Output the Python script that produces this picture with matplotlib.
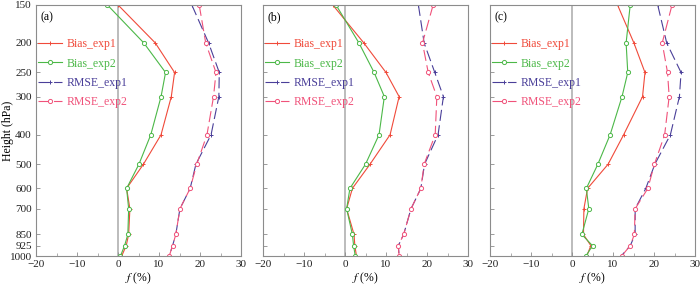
import matplotlib
matplotlib.use("Agg")
import matplotlib.pyplot as plt
from matplotlib.ticker import FixedLocator, NullLocator, MultipleLocator

plt.rcParams['font.family'] = ['Liberation Serif', 'DejaVu Serif']
plt.rcParams['mathtext.fontset'] = 'stix'

levels = [150, 200, 250, 300, 400, 500, 600, 700, 850, 925, 1000]
level_labels = ['150', '200', '250', '300', '400', '500', '600', '700', '850', '925', '1000']

# panel (a)
bias1_a = [0.0, 9.1, 13.8, 13.0, 10.5, 6.2, 2.1, 2.9, 2.6, 2.0, 0.9]
bias2_a = [-2.6, 6.3, 11.6, 10.5, 8.0, 5.1, 2.1, 2.6, 2.4, 1.6, 0.6]
rmse1_a = [18.0, 22.1, 24.7, 24.6, 22.7, 19.0, 17.6, 15.1, 14.1, 13.3, 12.5]
rmse2_a = [19.8, 21.4, 23.9, 23.3, 21.7, 19.2, 17.6, 15.1, 14.1, 13.3, 12.5]

# panel (b)
bias1_b = [-3.0, 4.6, 10.0, 13.2, 11.0, 6.1, 1.8, 0.4, 2.2, 2.4, 2.8]
bias2_b = [-2.2, 3.4, 7.1, 9.6, 8.3, 5.0, 1.2, 0.4, 1.8, 2.1, 2.5]
rmse1_b = [17.9, 19.3, 21.9, 24.0, 22.7, 19.4, 18.5, 16.1, 14.3, 13.0, 13.2]
rmse2_b = [21.5, 18.9, 20.3, 22.4, 22.0, 19.3, 18.5, 16.1, 14.3, 13.0, 13.2]

# panel (c)
bias1_c = [11.1, 15.1, 17.8, 17.2, 12.6, 8.8, 3.8, 2.9, 2.8, 4.6, 3.6]
bias2_c = [14.2, 13.2, 13.6, 12.2, 9.3, 6.3, 3.5, 4.1, 2.4, 5.0, 3.4]
rmse1_c = [20.9, 23.1, 26.6, 26.2, 24.0, 20.2, 18.0, 15.4, 15.4, 14.2, 12.0]
rmse2_c = [24.4, 22.0, 23.3, 23.7, 22.6, 20.1, 18.5, 15.4, 15.2, 14.2, 12.1]

panels = [('(a)', bias1_a, bias2_a, rmse1_a, rmse2_a),
          ('(b)', bias1_b, bias2_b, rmse1_b, rmse2_b),
          ('(c)', bias1_c, bias2_c, rmse1_c, rmse2_c)]

c_red = '#f04a3a'
c_green = '#4cb848'
c_blue = '#4a3f99'
c_pink = '#f0527a'
c_axis = '#8c8c8c'

fig = plt.figure(figsize=(7, 2.87), dpi=100)
lefts = [36 / 700, 263 / 700, 490 / 700]
for i, (tag, b1, b2, r1, r2) in enumerate(panels):
    ax = fig.add_axes([lefts[i], 0.108, 205 / 700, 0.875])
    ax.axvline(0, color='#b0b0b0', lw=1.2, zorder=1)
    ax.plot(b1, levels, color=c_red, lw=0.8, marker='+', ms=3.5, mew=0.7,
            label='Bias_exp1')
    ax.plot(b2, levels, color=c_green, lw=0.8, marker='o', ms=3, mew=0.7,
            mfc='white', label='Bias_exp2')
    ax.plot(r1, levels, color=c_blue, lw=0.8, marker='+', ms=3.5, mew=0.7,
            dashes=(10, 4), label='RMSE_exp1')
    ax.plot(r2, levels, color=c_pink, lw=0.8, marker='o', ms=3, mew=0.7,
            mfc='white', dashes=(10, 4), label='RMSE_exp2')
    ax.set_yscale('log')
    ax.set_ylim(1000, 150)
    ax.set_xlim(-20, 30)
    ax.yaxis.set_major_locator(FixedLocator(levels))
    ax.yaxis.set_minor_locator(NullLocator())
    ax.xaxis.set_minor_locator(MultipleLocator(5))
    ax.set_xticks([-20, -10, 0, 10, 20, 30])
    ax.set_xticklabels(['\u221220', '\u221210', '0', '10', '20', '30'])
    if i == 0:
        ax.set_yticklabels(level_labels)
        ax.set_ylabel('Height (hPa)', fontsize=8.5)
        ax.yaxis.set_label_coords(-0.108, 0.5)
    else:
        ax.set_yticklabels([])
    ax.tick_params(direction='in', length=3, width=0.6, colors=c_axis,
                   labelcolor='#222222', labelsize=8, pad=3)
    ax.tick_params(which='minor', direction='in', length=2, width=0.5,
                   colors=c_axis)
    for s in ax.spines.values():
        s.set_color(c_axis)
        s.set_linewidth(0.8)
    ax.set_xlabel(r'$f$ (%)', fontsize=8.5, labelpad=1)
    ax.text(0.02, 0.975, tag, transform=ax.transAxes, fontsize=8.5,
            va='top', ha='left')
    leg = ax.legend(loc='upper left', bbox_to_anchor=(-0.031, 0.9),
                    frameon=False, fontsize=8.5, handlelength=2.0,
                    handletextpad=0.4, labelspacing=0.62, borderpad=0.2)
    for txt, col in zip(leg.get_texts(), [c_red, c_green, c_blue, c_pink]):
        txt.set_color(col)

fig.savefig('out.png', dpi=100)
